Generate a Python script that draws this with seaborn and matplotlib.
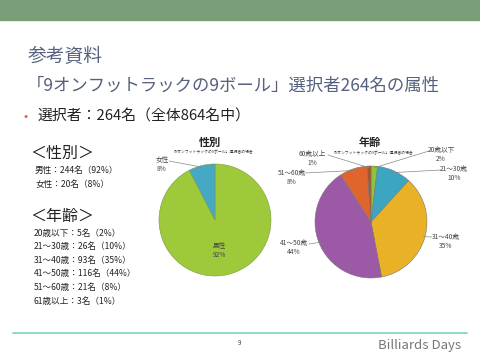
import numpy as np
import matplotlib.pyplot as plt
import seaborn as sns

sns.set_style('white')
plt.rcParams['font.family'] = ['Noto Sans CJK JP', 'DejaVu Sans']

# data
gender_labels = ['男性', '女性']
gender_counts = [244, 20]
gender_pcts = ['92%', '8%']
gender_colors = ['#9dc93a', '#45a9c4']

age_labels = ['20歳以下', '21～30歳', '31～40歳', '41～50歳', '51～60歳', '60歳以上']
age_counts = [5, 26, 93, 116, 21, 3]
age_pcts = ['2%', '10%', '35%', '44%', '8%', '1%']
age_colors = ['#8cc43c', '#3ca6c0', '#e9b226', '#9c5aa6', '#e0652c', '#a8552c']

gender_lines = ['男性：244名（92%）', '女性：20名（8%）']
age_lines = ['20歳以下：5名（2%）', '21～30歳：26名（10%）', '31～40歳：93名（35%）',
             '41～50歳：116名（44%）', '51～60歳：21名（8%）', '61歳以上：3名（1%）']

W, H = 480, 360
fig = plt.figure(figsize=(4.8, 3.6), dpi=100)
fig.patch.set_facecolor('white')


def px(x, y):
    return x / W, 1 - y / H


def ftext(x, y, s, **kw):
    kw.setdefault('va', 'center')
    fig.text(*px(x, y), s, **kw)


# header band and footer line
fig.patches.append(plt.Rectangle(px(0, 20), 1, 20 / H, transform=fig.transFigure,
                                 color='#7a9e78', zorder=0))
fig.lines.append(plt.Line2D([13 / W, 467 / W], [1 - 333 / H] * 2, transform=fig.transFigure,
                            color='#7fd6ae', lw=1.2))

title_c = '#56617e'
ftext(28, 56, '参考資料', fontsize=13.5, color=title_c)
ftext(27, 86, '「9オンフットラックの9ボール」選択者264名の属性', fontsize=12.5, color=title_c)
ftext(24, 117, '•', fontsize=9, color='#e0603a')
ftext(37, 117, '選択者：264名（全体864名中）', fontsize=10.7, color='#222222')

ftext(30, 153, '＜性別＞', fontsize=11.5, color='#222222')
for i, s in enumerate(gender_lines):
    ftext(35, 170 + i * 14, s, fontsize=6.2, color='#222222')
ftext(30, 217, '＜年齢＞', fontsize=11.5, color='#222222')
for i, s in enumerate(age_lines):
    ftext(34, 233 + i * 13.6, s, fontsize=6.2, color='#222222')

ftext(239, 343, '9', fontsize=4.5, color='#444444', ha='center')
ftext(420, 346, 'Billiards Days', fontsize=9.5, color='#777777', ha='center')


def pie_axes(cx, cy, r):
    return fig.add_axes([(cx - r) / W, 1 - (cy + r) / H, 2 * r / W, 2 * r / H])


def finish(ax):
    ax.set_xlim(-1, 1)
    ax.set_ylim(-1, 1)
    ax.set_aspect('equal')
    ax.axis('off')


def label_wedge(ax, w, name, pct, pos, anchor=None):
    # pos: text center (px) of the name line; anchor: where the leader line leaves the label
    fs = 4.8
    ftext(pos[0], pos[1], name, fontsize=fs, color='#444444', ha='center')
    ftext(pos[0], pos[1] + 9, pct, fontsize=fs, color='#444444', ha='center')
    if anchor is not None:
        ang = np.deg2rad((w.theta1 + w.theta2) / 2)
        ax.annotate('', xy=(0.97 * np.cos(ang), 0.97 * np.sin(ang)), xycoords='data',
                    xytext=px(*anchor), textcoords='figure fraction',
                    arrowprops=dict(arrowstyle='-', color='#888888', lw=0.5,
                                    shrinkA=0, shrinkB=0))


# gender pie
ax1 = pie_axes(215, 220, 56)
w1, _ = ax1.pie(gender_counts, colors=gender_colors, startangle=90, counterclock=False,
                wedgeprops=dict(edgecolor='#7a9a40', linewidth=0.4))
finish(ax1)
ftext(210, 142, '性別', fontsize=8, fontweight='bold', color='#222222', ha='center')
ftext(212, 152, '「9オンフットラックの9ボール」選択者の場合', fontsize=2.8, color='#333333', ha='center')
label_wedge(ax1, w1[0], gender_labels[0], gender_pcts[0], (219, 246))
label_wedge(ax1, w1[1], gender_labels[1], gender_pcts[1], (162, 160), anchor=(169, 161))

# age pie
ax2 = pie_axes(371, 222, 56)
w2, _ = ax2.pie(age_counts, colors=age_colors, startangle=90, counterclock=False,
                wedgeprops=dict(edgecolor='#777777', linewidth=0.4))
finish(ax2)
ftext(370, 142, '年齢', fontsize=8, fontweight='bold', color='#222222', ha='center')
ftext(372, 153, '「9オンフットラックの9ボール」選択者の場合', fontsize=2.8, color='#333333', ha='center')
age_pos = [(441, 150), (454, 169), (446, 237), (294, 243), (292, 173), (312, 154)]
age_anchor = [(429, 151), (441, 170), (432, 237), (309, 244), (305, 173), (328, 155)]
for w, lab, pc, pos, anc in zip(w2, age_labels, age_pcts, age_pos, age_anchor):
    label_wedge(ax2, w, lab, pc, pos, anchor=anc)

fig.savefig('out.png', dpi=100)
